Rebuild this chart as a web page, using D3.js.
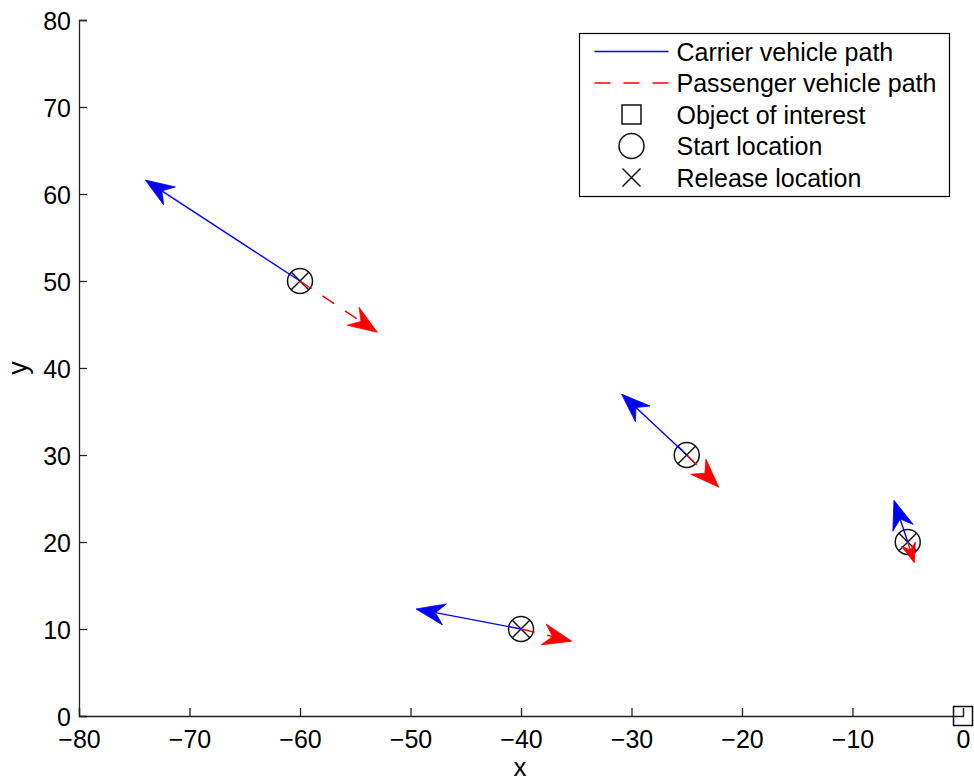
<!DOCTYPE html>
<html>
<head>
<meta charset="utf-8">
<script src="https://cdn.jsdelivr.net/npm/d3@7"></script>
<style>
  body { margin: 0; background: #fff; }
  svg text { font-family: "Liberation Sans", Arial, Helvetica, sans-serif; fill: #000; }
</style>
</head>
<body>
<div id="chart"></div>
<script>
// start / release locations
const startX = [-60, -25, -5, -40];
const startY = [50, 30, 20, 10];
// carrier vehicle arrow tips
const carrierX = [-74.0, -30.9, -6.25, -49.5];
const carrierY = [61.6, 37.0, 24.8, 12.3];
// passenger vehicle arrow tips
const passengerX = [-53.0, -22.1, -4.4, -35.4];
const passengerY = [44.1, 26.3, 17.6, 8.6];
// object of interest
const objectX = [0];
const objectY = [0];

const xTicks = [-80, -70, -60, -50, -40, -30, -20, -10, 0];
const yTicks = [0, 10, 20, 30, 40, 50, 60, 70, 80];

const legendItems = ["Carrier vehicle path", "Passenger vehicle path", "Object of interest", "Start location", "Release location"];

const WIDTH = 974, HEIGHT = 782;
const MARGIN = { LEFT: 79, RIGHT: 11, TOP: 20, BOTTOM: 66 };
const W = WIDTH - MARGIN.LEFT - MARGIN.RIGHT;
const H = HEIGHT - MARGIN.TOP - MARGIN.BOTTOM;
const FONT = 25;

const svg = d3.select("#chart").append("svg")
  .attr("width", WIDTH)
  .attr("height", HEIGHT);

const g = svg.append("g")
  .attr("transform", `translate(${MARGIN.LEFT}, ${MARGIN.TOP})`);

const x = d3.scaleLinear().domain([-80, 0]).range([0, W]);
const y = d3.scaleLinear().domain([0, 80]).range([H, 0]);

// axes (inward ticks, no box)
const xAxis = g.append("g")
  .attr("transform", `translate(0, ${H})`)
  .call(d3.axisBottom(x).tickValues(xTicks).tickSize(-8).tickPadding(14));
const yAxis = g.append("g")
  .call(d3.axisLeft(y).tickValues(yTicks).tickSize(-8).tickPadding(8));

[xAxis, yAxis].forEach(a => {
  a.select(".domain").attr("stroke", "#222").attr("stroke-width", 1.3);
  a.selectAll(".tick line").attr("stroke", "#222").attr("stroke-width", 1.3);
  a.selectAll(".tick text").attr("font-size", FONT)
    .attr("font-family", "'Liberation Sans', Arial, sans-serif").attr("fill", "#000");
});
yAxis.selectAll(".tick text").attr("dy", "0.36em");
xAxis.selectAll(".tick text").attr("dy", "0.7em");

svg.append("text")
  .attr("x", MARGIN.LEFT + W / 2 - 1)
  .attr("y", 776)
  .attr("text-anchor", "middle")
  .attr("font-size", 26)
  .text("x");

svg.append("text")
  .attr("transform", `translate(26.5, ${MARGIN.TOP + H / 2}) rotate(-90)`)
  .attr("text-anchor", "middle")
  .attr("font-size", 27)
  .text("y");

// markers
const starts = startX.map((d, i) => ({ x: d, y: startY[i] }));

g.selectAll(".start")
  .data(starts)
  .join("circle")
  .attr("class", "start")
  .attr("cx", d => x(d.x))
  .attr("cy", d => y(d.y))
  .attr("r", 12.5)
  .attr("fill", "none")
  .attr("stroke", "#111")
  .attr("stroke-width", 1.5);

const crossPath = (cx, cy, s) =>
  `M${cx - s},${cy - s}L${cx + s},${cy + s}M${cx - s},${cy + s}L${cx + s},${cy - s}`;

g.selectAll(".release")
  .data(starts)
  .join("path")
  .attr("class", "release")
  .attr("d", d => crossPath(x(d.x), y(d.y), 9))
  .attr("stroke", "#111")
  .attr("stroke-width", 1.5);

g.selectAll(".object")
  .data(objectX.map((d, i) => ({ x: d, y: objectY[i] })))
  .join("rect")
  .attr("class", "object")
  .attr("x", d => x(d.x) - 9.5)
  .attr("y", d => y(d.y) - 9.5)
  .attr("width", 19)
  .attr("height", 19)
  .attr("fill", "none")
  .attr("stroke", "#111")
  .attr("stroke-width", 1.5);

// arrows
function arrowGeom(x0, y0, x1, y1) {
  const dx = x1 - x0, dy = y1 - y0;
  const L = Math.hypot(dx, dy);
  const ux = dx / L, uy = dy / L;
  const px = -uy, py = ux;
  const hl = Math.min(29, L * 0.9);
  const hw = hl * 0.37;
  const nl = hl * 0.68;
  const bx = x1 - ux * hl, by = y1 - uy * hl;
  const nx = x1 - ux * nl, ny = y1 - uy * nl;
  return {
    line: [[x0, y0], [nx, ny]],
    head: `M${x1},${y1}L${bx + px * hw},${by + py * hw}L${nx},${ny}L${bx - px * hw},${by - py * hw}Z`
  };
}

function drawArrows(tipX, tipY, color, dash, cls) {
  const data = starts.map((s, i) => arrowGeom(x(s.x), y(s.y), x(tipX[i]), y(tipY[i])));
  g.selectAll(`.${cls}-line`)
    .data(data)
    .join("path")
    .attr("class", `${cls}-line`)
    .attr("d", d => d3.line()(d.line))
    .attr("stroke", color)
    .attr("stroke-width", 1.4)
    .attr("stroke-dasharray", dash)
    .attr("fill", "none");
  g.selectAll(`.${cls}-head`)
    .data(data)
    .join("path")
    .attr("class", `${cls}-head`)
    .attr("d", d => d.head)
    .attr("fill", color)
    .attr("stroke", color)
    .attr("stroke-width", 0.8);
}

drawArrows(carrierX, carrierY, "#0000ff", null, "carrier");
drawArrows(passengerX, passengerY, "#ff0000", "14,13", "passenger");

// legend
const legend = svg.append("g").attr("transform", "translate(579.5, 33.5)");
legend.append("rect")
  .attr("width", 370)
  .attr("height", 163)
  .attr("fill", "#fff")
  .attr("stroke", "#000")
  .attr("stroke-width", 1.2);

const rowY = i => 18 + i * 31.5;
legend.selectAll(".lg-text")
  .data(legendItems)
  .join("text")
  .attr("class", "lg-text")
  .attr("x", 97)
  .attr("y", (d, i) => rowY(i))
  .attr("dy", "0.36em")
  .attr("font-size", FONT)
  .text(d => d);

legend.append("line")
  .attr("x1", 15).attr("x2", 89).attr("y1", rowY(0)).attr("y2", rowY(0))
  .attr("stroke", "#0000ff").attr("stroke-width", 1.4);
legend.append("line")
  .attr("x1", 15).attr("x2", 89).attr("y1", rowY(1)).attr("y2", rowY(1))
  .attr("stroke", "#ff0000").attr("stroke-width", 1.4).attr("stroke-dasharray", "16,13");
legend.append("rect")
  .attr("x", 52 - 9.5).attr("y", rowY(2) - 9.5).attr("width", 19).attr("height", 19)
  .attr("fill", "none").attr("stroke", "#111").attr("stroke-width", 1.5);
legend.append("circle")
  .attr("cx", 52).attr("cy", rowY(3)).attr("r", 12.5)
  .attr("fill", "none").attr("stroke", "#111").attr("stroke-width", 1.5);
legend.append("path")
  .attr("d", crossPath(52, rowY(4), 9))
  .attr("stroke", "#111").attr("stroke-width", 1.5);
</script>
</body>
</html>
